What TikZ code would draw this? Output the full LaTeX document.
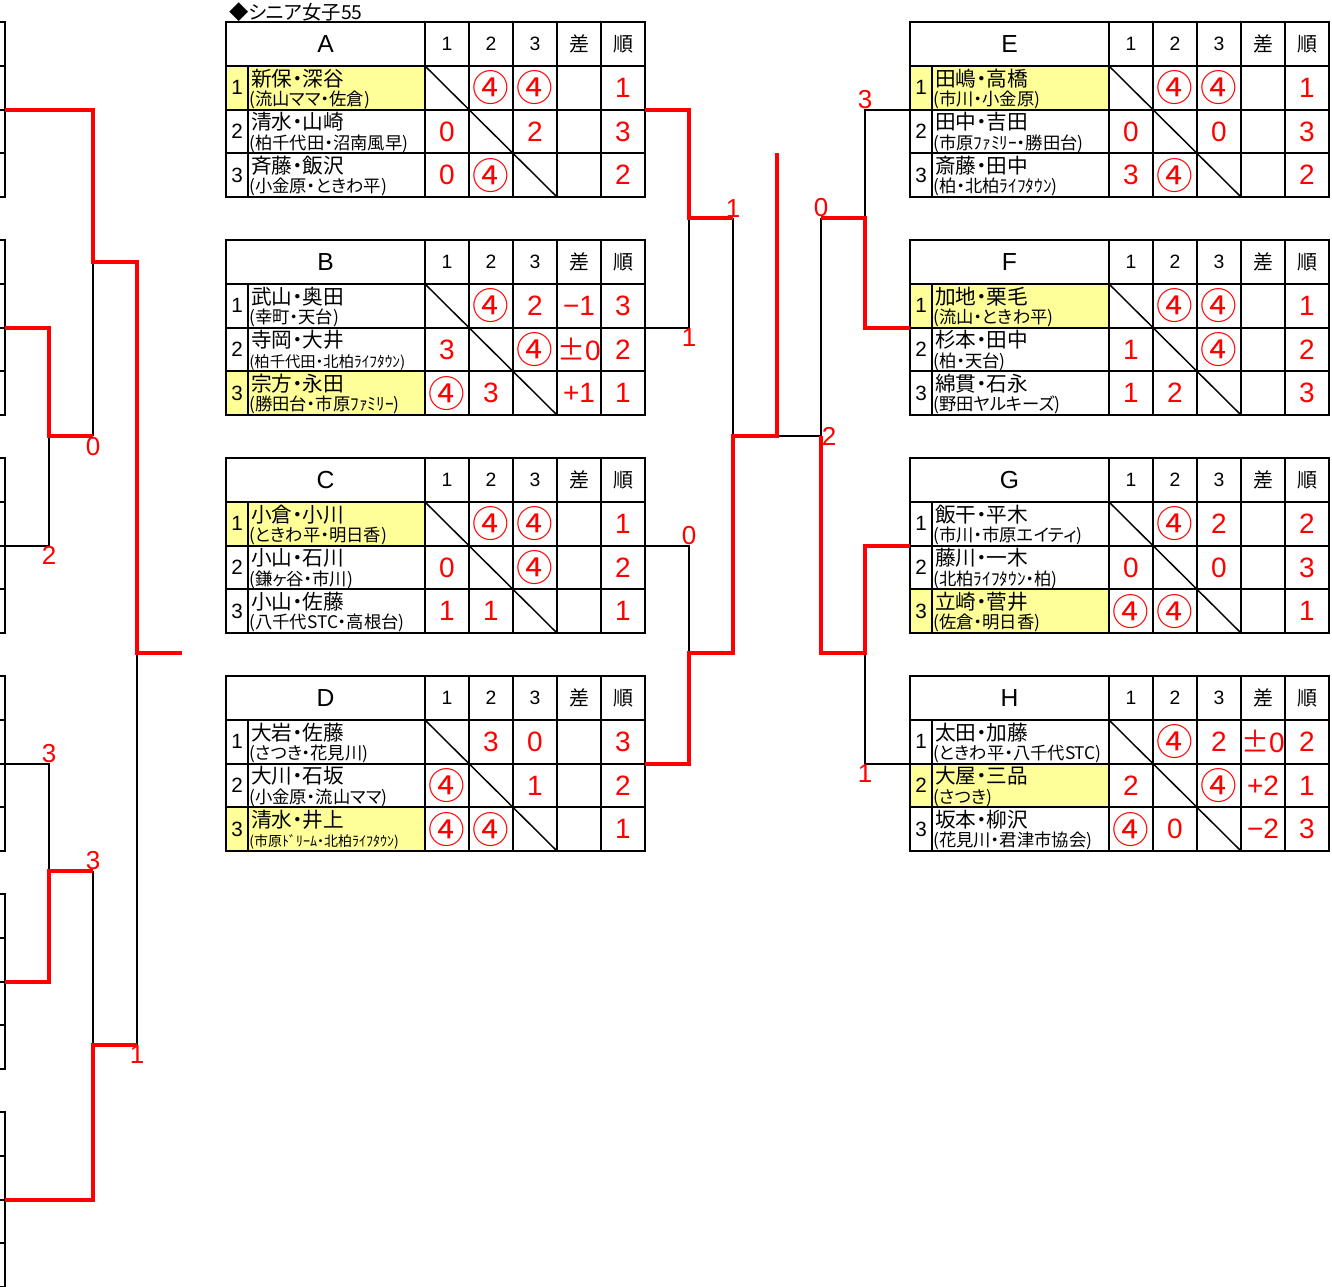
\documentclass[tikz,border=0pt]{standalone}
\usepackage{fontspec}
\newfontfamily\jfont[RawFeature=+palt]{Noto Sans CJK JP}
\newfontfamily\nfont{Liberation Sans}
\usepackage{tikz}
\usetikzlibrary{positioning}

\definecolor{hl}{RGB}{255,255,153}
\newcommand{\fsz}[1]{\fontsize{#1}{#1}\selectfont}
\newcommand{\wn}{{\jfont\fsz{27.5}④}}
\newcommand{\pmz}{{\jfont\fsz{21}±}}

% header of one group table (origin = top left corner)
\newcommand{\grouphead}[1]{%
  \def\grp{#1}%
  \node[headtxt, font=\nfont\fsz{18.5}] (#1-title) at (99.5,22) {#1};
  \foreach \t [count=\k] in {1,2,3,{\jfont\fsz{15}差},{\jfont\fsz{15}順}}
    \node[headtxt] (#1-h\k) at (177+44*\k,22) {\t};
}

% one team: row, fill, name, club, vs1, vs2, vs3, diff, rank
\newcommand{\teamrow}[9]{%
  \pgfmathsetmacro\ry{44+(#1-1)*43.67}
  \fill[#2] (0,\ry) rectangle (199,\ry+43.67);
  \node[idxtxt] (\grp-#1) at (11,\ry+21.8) {#1};
  \node[nametxt] (\grp-#1-name) at (25,\ry+20) {#3};
  \node[clubtxt] (\grp-#1-club) at (23,\ry+39.5) {#4};
  \node[score] (\grp-#1-s1) at (221,\ry+21.8) {#5};
  \node[score] (\grp-#1-s2) at (265,\ry+21.8) {#6};
  \node[score] (\grp-#1-s3) at (309,\ry+21.8) {#7};
  \node[score] (\grp-#1-df) at (353,\ry+21.8) {#8};
  \node[score] (\grp-#1-rk) at (397,\ry+21.8) {#9};
}

% ruling of the table, plus the points where the bracket starts
\newcommand{\groupgrid}{%
  \draw[tabline] (0,0) rectangle (419,175);
  \foreach \yy in {44,87.67,131.33} \draw[tabline] (0,\yy) -- (419,\yy);
  \draw[tabline] (22,44) -- (22,175);
  \foreach \k in {0,...,4} \draw[tabline] (199+44*\k,0) -- (199+44*\k,175);
  \draw[diag] (199,44) -- (331,175);
  \coordinate (\grp-e) at (419,87.67);
  \coordinate (\grp-w) at (0,87.67);
}

\begin{document}
\begin{tikzpicture}[x=0.75pt, y=-0.75pt,
  tabline/.style={line width=1.5pt},
  diag/.style={line width=1.1pt},
  lose/.style={draw=black, line width=1.5pt},
  win/.style={draw=red, line width=3pt},
  headtxt/.style={font=\nfont\fsz{14.5}, inner sep=0pt},
  idxtxt/.style={font=\nfont\fsz{15.5}, inner sep=0pt},
  nametxt/.style={font=\jfont\fsz{15.5}, anchor=base west, inner sep=0pt},
  clubtxt/.style={font=\jfont\fsz{13}, anchor=base west, inner sep=0pt},
  score/.style={font=\nfont\fsz{21}, text=red, inner sep=0pt},
  brlabel/.style={font=\nfont\fsz{19.5}, text=red, inner sep=0.5pt}]
\useasboundingbox (0,0) rectangle (1332,1286);

\node[font=\jfont\fsz{14.5}, anchor=west, inner sep=0pt] (title) at (229,12) {◆シニア女子55};

% tables cut off at the left edge
\foreach \t [count=\k] in {22,240,458,676,894,1112} {
  \draw[tabline] (0,\t) -- (5,\t) -- (5,\t+175) -- (0,\t+175);
  \foreach \d in {44,87.67,131.33} \draw[tabline] (0,\t+\d) -- (5,\t+\d);
  \coordinate (L\k) at (5,\t+87.67);
}

% group A
\begin{scope}[shift={(226,22)}]
  \grouphead{A}
  \teamrow{1}{hl}{新保・深谷}{(流山ママ・佐倉)}{}{\wn}{\wn}{}{1}
  \teamrow{2}{white}{清水・山崎}{(柏千代田・沼南風早)}{0}{}{2}{}{3}
  \teamrow{3}{white}{斉藤・飯沢}{(小金原・ときわ平)}{0}{\wn}{}{}{2}
  \groupgrid
\end{scope}
% group B
\begin{scope}[shift={(226,240)}]
  \grouphead{B}
  \teamrow{1}{white}{武山・奥田}{(幸町・天台)}{}{\wn}{2}{−1}{3}
  \teamrow{2}{white}{寺岡・大井}{\fsz{11.5}(柏千代田・北柏ﾗｲﾌﾀｳﾝ)}{3}{}{\wn}{\pmz0}{2}
  \teamrow{3}{hl}{宗方・永田}{(勝田台・市原ﾌｧﾐﾘｰ)}{\wn}{3}{}{+1}{1}
  \groupgrid
\end{scope}
% group C
\begin{scope}[shift={(226,458)}]
  \grouphead{C}
  \teamrow{1}{hl}{小倉・小川}{(ときわ平・明日香)}{}{\wn}{\wn}{}{1}
  \teamrow{2}{white}{小山・石川}{(鎌ヶ谷・市川)}{0}{}{\wn}{}{2}
  \teamrow{3}{white}{小山・佐藤}{(八千代STC・高根台)}{1}{1}{}{}{1}
  \groupgrid
\end{scope}
% group D
\begin{scope}[shift={(226,676)}]
  \grouphead{D}
  \teamrow{1}{white}{大岩・佐藤}{(さつき・花見川)}{}{3}{0}{}{3}
  \teamrow{2}{white}{大川・石坂}{(小金原・流山ママ)}{\wn}{}{1}{}{2}
  \teamrow{3}{hl}{清水・井上}{\fsz{10.5}(市原ﾄﾞﾘｰﾑ・北柏ﾗｲﾌﾀｳﾝ)}{\wn}{\wn}{}{}{1}
  \groupgrid
\end{scope}
% group E
\begin{scope}[shift={(910,22)}]
  \grouphead{E}
  \teamrow{1}{hl}{田嶋・高橋}{(市川・小金原)}{}{\wn}{\wn}{}{1}
  \teamrow{2}{white}{田中・吉田}{(市原ﾌｧﾐﾘｰ・勝田台)}{0}{}{0}{}{3}
  \teamrow{3}{white}{斎藤・田中}{(柏・北柏ﾗｲﾌﾀｳﾝ)}{3}{\wn}{}{}{2}
  \groupgrid
\end{scope}
% group F
\begin{scope}[shift={(910,240)}]
  \grouphead{F}
  \teamrow{1}{hl}{加地・栗毛}{(流山・ときわ平)}{}{\wn}{\wn}{}{1}
  \teamrow{2}{white}{杉本・田中}{(柏・天台)}{1}{}{\wn}{}{2}
  \teamrow{3}{white}{綿貫・石永}{(野田ヤルキーズ)}{1}{2}{}{}{3}
  \groupgrid
\end{scope}
% group G
\begin{scope}[shift={(910,458)}]
  \grouphead{G}
  \teamrow{1}{white}{飯干・平木}{(市川・市原エイティ)}{}{\wn}{2}{}{2}
  \teamrow{2}{white}{藤川・一木}{(北柏ﾗｲﾌﾀｳﾝ・柏)}{0}{}{0}{}{3}
  \teamrow{3}{hl}{立崎・菅井}{(佐倉・明日香)}{\wn}{\wn}{}{}{1}
  \groupgrid
\end{scope}
% group H
\begin{scope}[shift={(910,676)}]
  \grouphead{H}
  \teamrow{1}{white}{太田・加藤}{(ときわ平・八千代STC)}{}{\wn}{2}{\pmz0}{2}
  \teamrow{2}{hl}{大屋・三品}{(さつき)}{2}{}{\wn}{+2}{1}
  \teamrow{3}{white}{坂本・柳沢}{(花見川・君津市協会)}{\wn}{0}{}{−2}{3}
  \groupgrid
\end{scope}

% bracket joints
\coordinate (l23) at (49,436);   \coordinate (l23-w) at (93,436);
\coordinate (l1) at (93,262);    \coordinate (l1-w) at (137,262);
\coordinate (l45) at (49,871);   \coordinate (l45-w) at (93,871);
\coordinate (l6) at (93,1045);   \coordinate (l6-w) at (137,1045);
\coordinate (lfin) at (137,653); \coordinate (lfin-w) at (182,653);
\coordinate (ab) at (689,218);   \coordinate (ab-w) at (733,218);
\coordinate (cd) at (689,653);   \coordinate (cd-w) at (733,653);
\coordinate (abcd) at (733,436); \coordinate (fin) at (777,436);
\coordinate (fin-top) at (777,153);
\coordinate (ef) at (865,218);   \coordinate (ef-w) at (821,218);
\coordinate (gh) at (865,653);   \coordinate (gh-w) at (821,653);
\coordinate (efgh) at (821,436);

% losers
\draw[lose] (L3) -| (l23);
\draw[lose] (l23-w) -- (l1);
\draw[lose] (L4) -| (l45);
\draw[lose] (l45-w) -- (l6);
\draw[lose] (l6-w) -- (lfin);
\draw[lose] (B-e) -| (ab);
\draw[lose] (C-e) -| (cd);
\draw[lose] (ab-w) -- (abcd);
\draw[lose] (fin) -- (efgh);
\draw[lose] (E-w) -| (ef);
\draw[lose] (H-w) -| (gh);
\draw[lose] (ef-w) -- (efgh);

% winners
\draw[win] (L1) -| (l1) -- (l1-w) -- (lfin) -- (lfin-w);
\draw[win] (L2) -| (l23) -- (l23-w);
\draw[win] (L5) -| (l45) -- (l45-w);
\draw[win] (L6) -| (l6) -- (l6-w);
\draw[win] (A-e) -| (ab) -- (ab-w);
\draw[win] (D-e) -| (cd) -- (cd-w) -- (abcd) -- (fin) -- (fin-top);
\draw[win] (F-w) -| (ef) -- (ef-w);
\draw[win] (G-w) -| (gh) -- (gh-w) -- (efgh);

% game scores
\node[brlabel, below] (sc1) at (l23-w) {0};
\node[brlabel, below] (sc2) at (l23 |- L3) {2};
\node[brlabel, above] (sc3) at (l45 |- L4) {3};
\node[brlabel, above] (sc4) at (l45-w) {3};
\node[brlabel, below] (sc5) at (l6-w) {1};
\node[brlabel, above] (sc6) at (ab-w) {1};
\node[brlabel, below] (sc7) at (ab |- B-e) {1};
\node[brlabel, above] (sc8) at (cd |- C-e) {0};
\node[brlabel, above] (sc9) at (ef-w) {0};
\node[brlabel, above] (sc10) at (ef |- E-w) {3};
\node[brlabel, below] (sc11) at (gh |- H-w) {1};
\node[brlabel, right] (sc12) at (efgh) {2};
\end{tikzpicture}
\end{document}
